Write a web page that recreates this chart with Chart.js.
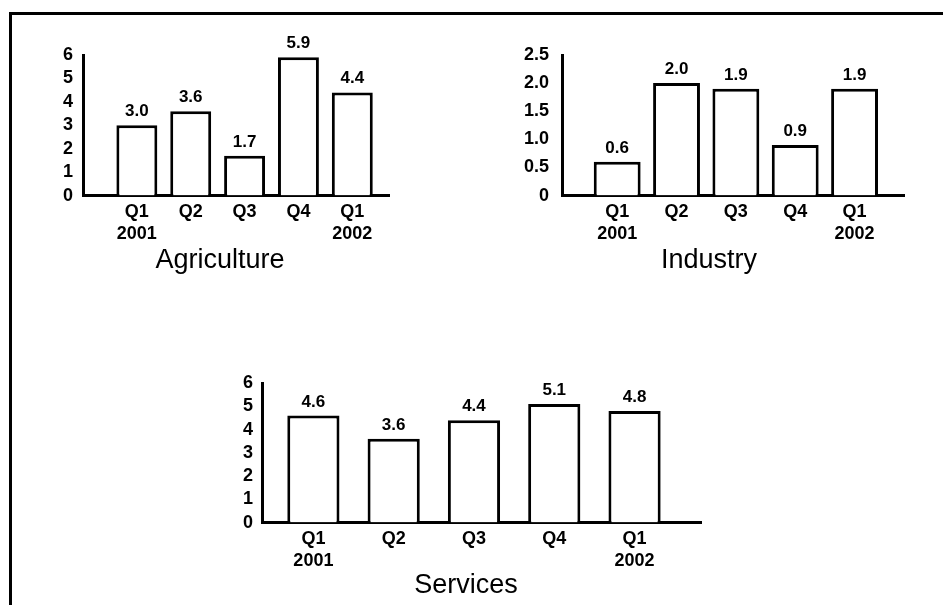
<!DOCTYPE html>
<html>
<head>
<meta charset="utf-8">
<script src="https://cdn.jsdelivr.net/npm/chart.js@4/dist/chart.umd.min.js"></script>
<style>
  html, body { margin: 0; padding: 0; background: #fff; overflow: hidden; }
  body { width: 943px; height: 605px; position: relative; }
  #frame { position: absolute; left: 9px; top: 12px; right: -5px; bottom: -5px;
           border-top: 3px solid #000; border-left: 3px solid #000; }
  canvas { position: absolute; }
</style>
</head>
<body>
<div id="frame"></div>
<canvas id="agri" width="340" height="252" style="left:50px;top:29px"></canvas>
<canvas id="ind" width="392" height="252" style="left:513px;top:29px"></canvas>
<canvas id="serv" width="472" height="249" style="left:230px;top:357px"></canvas>
<script>
// quarters
var quarters = [['Q1', '2001'], 'Q2', 'Q3', 'Q4', ['Q1', '2002']];

// growth by sector
var agriculture = [3.0, 3.6, 1.7, 5.9, 4.4];
var industry = [0.6, 2.0, 1.9, 0.9, 1.9];
var services = [4.6, 3.6, 4.4, 5.1, 4.8];

var FONT = "'Liberation Sans', Arial, sans-serif";
Chart.defaults.color = '#000';
Chart.defaults.font.family = FONT;

// writes the value above each bar
var valueLabels = {
  id: 'valueLabels',
  afterDatasetsDraw: function (chart) {
    var ctx = chart.ctx;
    var meta = chart.getDatasetMeta(0);
    ctx.save();
    ctx.font = 'bold 17px ' + FONT;
    ctx.fillStyle = '#000';
    ctx.textAlign = 'center';
    ctx.textBaseline = 'alphabetic';
    meta.data.forEach(function (bar, i) {
      var v = chart.data.datasets[0].data[i].y;
      ctx.fillText(v.toFixed(1), bar.x, bar.y - 9);
    });
    ctx.restore();
  }
};

function makeChart(id, title, values, o) {
  return new Chart(id, {
    type: 'bar',
    data: {
      datasets: [{
        data: values.map((v, i) => ({ x: i + 1, y: v })),
        backgroundColor: '#fff',
        borderColor: '#000',
        borderWidth: 3,
        borderSkipped: 'bottom',
        categoryPercentage: 1,
        barPercentage: o.barPct
      }]
    },
    options: {
      responsive: false,
      animation: false,
      events: [],
      layout: { padding: { top: 26, left: 0, right: 0, bottom: 0 } },
      plugins: {
        legend: { display: false },
        tooltip: { enabled: false },
        title: {
          display: true,
          text: title,
          position: 'bottom',
          color: '#000',
          font: { size: 27, weight: 'normal', family: FONT, lineHeight: 1.2 },
          padding: { top: 0, bottom: 4 }
        }
      },
      scales: {
        x: {
          type: 'linear',
          offset: false,
          min: o.xmin,
          max: o.xmax,
          grid: { display: false, drawTicks: false },
          border: { display: true, color: '#000', width: 3 },
          ticks: {
            padding: 5,
            font: { size: 18, weight: 'bold', lineHeight: 1.22 },
            maxRotation: 0,
            autoSkip: false,
            callback: function (v) { return quarters[v - 1]; }
          },
          afterBuildTicks: function (scale) {
            scale.ticks = quarters.map((q, i) => ({ value: i + 1 }));
          },
          afterFit: function (scale) { scale.height = o.xh; }
        },
        y: {
          min: 0,
          max: o.ymax,
          grid: { display: false, drawTicks: false },
          border: { display: true, color: '#000', width: 3 },
          ticks: {
            stepSize: o.step,
            autoSkip: false,
            padding: o.ypad,
            font: { size: 18, weight: 'bold' },
            callback: o.fmt
          },
          afterFit: function (scale) { scale.width = o.yw; }
        }
      }
    },
    plugins: [valueLabels]
  });
}

makeChart('agri', 'Agriculture', agriculture, {
  xmin: 0, xmax: 5.7, barPct: 0.76, xh: 49, yw: 33, ymax: 6, step: 1, ypad: 10,
  fmt: v => String(v)
});
makeChart('ind', 'Industry', industry, {
  xmin: 0.07, xmax: 5.85, barPct: 0.79, xh: 49, yw: 49, ymax: 2.5, step: 0.5, ypad: 13,
  fmt: v => v === 0 ? '0' : v.toFixed(1)
});
makeChart('serv', 'Services', services, {
  xmin: 0.36, xmax: 5.84, barPct: 0.65, xh: 47, yw: 32, ymax: 6, step: 1, ypad: 9,
  fmt: v => String(v)
});
</script>
</body>
</html>
